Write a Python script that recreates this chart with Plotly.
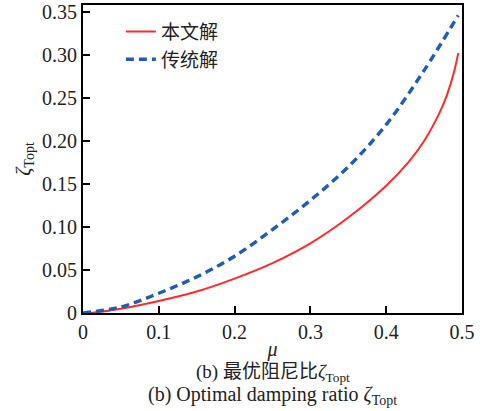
import plotly.graph_objects as go

# data
mu_new = [0.01, 0.05, 0.10, 0.15, 0.20, 0.25, 0.30, 0.35, 0.40, 0.43, 0.45, 0.47, 0.48, 0.49, 0.495]
zeta_new = [0.0, 0.005, 0.014, 0.025, 0.040, 0.058, 0.081, 0.111, 0.148, 0.176, 0.200, 0.232, 0.253, 0.282, 0.302]

mu_trad = [0.0, 0.05, 0.10, 0.15, 0.20, 0.25, 0.30, 0.35, 0.40, 0.45, 0.495]
zeta_trad = [0.0, 0.007, 0.023, 0.042, 0.066, 0.097, 0.131, 0.170, 0.219, 0.282, 0.346]

x_ticks = [0, 0.1, 0.2, 0.3, 0.4, 0.5]
x_tick_labels = ["0", "0.1", "0.2", "0.3", "0.4", "0.5"]
y_ticks = [0, 0.05, 0.10, 0.15, 0.20, 0.25, 0.30, 0.35]
y_tick_labels = ["0", "0.05", "0.10", "0.15", "0.20", "0.25", "0.30", "0.35"]

serif = "Liberation Serif"
cjk = "Noto Sans CJK SC"

fig = go.Figure()
fig.add_trace(go.Scatter(x=mu_new, y=zeta_new, mode="lines", name="本文解",
                         line=dict(color="#ff2a2a", width=2, shape="spline")))
fig.add_trace(go.Scatter(x=mu_trad, y=zeta_trad, mode="lines", name="传统解",
                         line=dict(color="#1f5cb8", width=3.4, dash="8px,5px", shape="spline")))

axis_common = dict(showline=True, linecolor="black", linewidth=2, mirror=True,
                   ticks="inside", ticklen=7, tickwidth=1.5, tickcolor="black",
                   showgrid=False, zeroline=False, automargin=False,
                   tickfont=dict(family=serif, size=20, color="#222"))

fig.update_xaxes(range=[0, 0.5], tickvals=x_ticks, ticktext=x_tick_labels,
                 title=dict(text="<i>μ</i>", font=dict(family=serif, size=20, color="#222"), standoff=0),
                 **axis_common)
fig.update_yaxes(range=[0, 0.358], tickvals=y_ticks, ticktext=y_tick_labels,
                 title=dict(text="<i>ζ</i><sub>Topt</sub>", font=dict(family=serif, size=20, color="#222"), standoff=6),
                 **axis_common)

fig.add_annotation(x=0.5, xref="paper", y=-0.195, yref="paper", showarrow=False,
                   text="(b) 最优阻尼比<i>ζ</i><sub>Topt</sub>", xanchor="center", yanchor="middle",
                   font=dict(family=serif + ", " + cjk, size=19, color="#222"))
fig.add_annotation(x=0.5, xref="paper", y=-0.268, yref="paper", showarrow=False,
                   text="(b) Optimal damping ratio <i>ζ</i><sub>Topt</sub>", xanchor="center", yanchor="middle",
                   font=dict(family=serif, size=20, color="#222"))

fig.update_layout(
    width=480, height=411,
    margin=dict(l=83, r=18, t=5, b=98),
    paper_bgcolor="white", plot_bgcolor="white",
    showlegend=True,
    legend=dict(x=0.1, y=0.975, xanchor="left", yanchor="top",
                bgcolor="rgba(0,0,0,0)", tracegroupgap=0,
                font=dict(family=cjk, size=19, color="#222")),
)

fig.write_html("out.html", config={"displayModeBar": False},
               post_script="document.body.style.margin='0px';")
